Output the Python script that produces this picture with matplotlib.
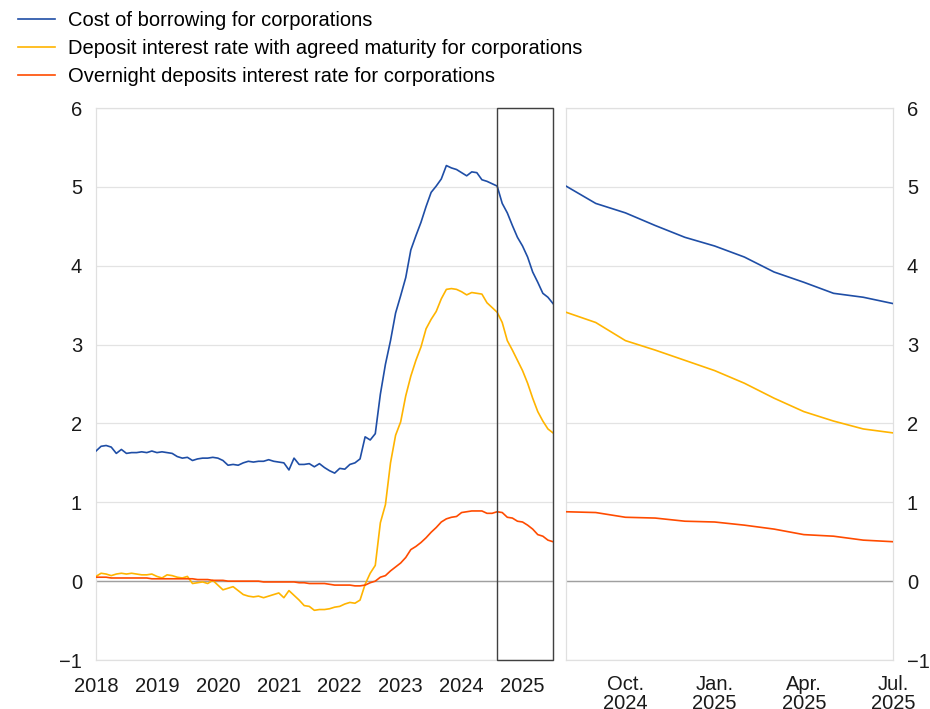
import numpy as np
import matplotlib.pyplot as plt
from matplotlib.lines import Line2D
from matplotlib.patches import Rectangle

plt.rcParams['font.family'] = ['Liberation Sans', 'DejaVu Sans']

# monthly data, Jan 2018 .. Jul 2025
start_year = 2018

cost_borrowing = [
    1.65, 1.71, 1.72, 1.70, 1.62, 1.67, 1.62, 1.63, 1.63, 1.64, 1.63, 1.65,
    1.63, 1.64, 1.63, 1.62, 1.58, 1.56, 1.57, 1.53, 1.55, 1.56, 1.56, 1.57,
    1.56, 1.53, 1.47, 1.48, 1.47, 1.50, 1.52, 1.51, 1.52, 1.52, 1.54, 1.52,
    1.51, 1.50, 1.41, 1.56, 1.48, 1.48, 1.49, 1.45, 1.49, 1.44, 1.40, 1.37,
    1.43, 1.42, 1.48, 1.50, 1.55, 1.83, 1.79, 1.87, 2.37, 2.75, 3.05, 3.40,
    3.62, 3.85, 4.20, 4.38, 4.55, 4.75, 4.93, 5.01, 5.10, 5.27, 5.24, 5.22,
    5.18, 5.14, 5.19, 5.18, 5.09, 5.07, 5.04,
    5.01, 4.79, 4.67, 4.51, 4.36, 4.25, 4.11, 3.92, 3.79, 3.65, 3.60, 3.52,
]

deposit_agreed = [
    0.06, 0.10, 0.09, 0.07, 0.09, 0.10, 0.09, 0.10, 0.09, 0.08, 0.08, 0.09,
    0.06, 0.04, 0.08, 0.07, 0.05, 0.04, 0.06, -0.03, -0.02, -0.01, -0.03, 0.01,
    -0.05, -0.11, -0.09, -0.07, -0.12, -0.17, -0.19, -0.20, -0.19, -0.21, -0.19, -0.17,
    -0.15, -0.21, -0.12, -0.18, -0.24, -0.31, -0.32, -0.37, -0.36, -0.36, -0.35, -0.33,
    -0.32, -0.29, -0.27, -0.28, -0.24, -0.04, 0.10, 0.20, 0.74, 0.97, 1.50, 1.85,
    2.02, 2.35, 2.60, 2.80, 2.97, 3.20, 3.32, 3.42, 3.58, 3.70, 3.71, 3.70,
    3.67, 3.63, 3.66, 3.65, 3.64, 3.53, 3.47,
    3.41, 3.28, 3.05, 2.93, 2.80, 2.67, 2.51, 2.32, 2.15, 2.03, 1.93, 1.88,
]

overnight = [
    0.05, 0.05, 0.05, 0.04, 0.04, 0.04, 0.04, 0.04, 0.04, 0.04, 0.04, 0.03,
    0.03, 0.03, 0.03, 0.03, 0.03, 0.03, 0.03, 0.03, 0.02, 0.02, 0.02, 0.01,
    0.01, 0.01, 0.00, 0.00, 0.00, 0.00, 0.00, 0.00, 0.00, -0.01, -0.01, -0.01,
    -0.01, -0.01, -0.01, -0.01, -0.02, -0.02, -0.03, -0.03, -0.03, -0.03, -0.04, -0.05,
    -0.05, -0.05, -0.05, -0.06, -0.06, -0.05, -0.02, 0.00, 0.05, 0.07, 0.13, 0.18,
    0.23, 0.30, 0.40, 0.44, 0.49, 0.55, 0.62, 0.68, 0.75, 0.79, 0.81, 0.82,
    0.87, 0.88, 0.89, 0.89, 0.89, 0.86, 0.86,
    0.88, 0.87, 0.81, 0.80, 0.76, 0.75, 0.71, 0.66, 0.59, 0.57, 0.52, 0.50,
]

labels = ['Cost of borrowing for corporations',
          'Deposit interest rate with agreed maturity for corporations',
          'Overnight deposits interest rate for corporations']
colors = ['#1f4ea6', '#ffb400', '#ff4b00']

zoom_start = 79  # Aug 2024
right_ticks = [81, 84, 87, 90]
right_labels = ['Oct.\n2024', 'Jan.\n2025', 'Apr.\n2025', 'Jul.\n2025']

months = np.arange(len(cost_borrowing))
series = [cost_borrowing, deposit_agreed, overnight]

fs = 14.5

fig = plt.figure(figsize=(9.3, 7.09), dpi=100)
ax1 = fig.add_axes([96/930, 49/709, 457/930, 552/709])
ax2 = fig.add_axes([566/930, 49/709, 327/930, 552/709])

for ax in (ax1, ax2):
    ax.set_ylim(-1, 6)
    ax.set_yticks(range(-1, 7))
    ax.set_yticklabels([str(v).replace('-', '\u2212') for v in range(-1, 7)])
    ax.grid(axis='y', color='#e3e3e3', linewidth=0.9)
    ax.axhline(0, color='#a0a0a0', linewidth=1.0, zorder=1)
    for s in ax.spines.values():
        s.set_color('#e0e0e0')
        s.set_linewidth(0.9)
    ax.tick_params(length=0, labelsize=fs, colors='#1a1a1a', pad=10)
    ax.set_axisbelow(True)

for y, c in zip(series, colors):
    ax1.plot(months, y, color=c, linewidth=1.2, zorder=3)
    ax2.plot(months[zoom_start:], y[zoom_start:], color=c, linewidth=1.2, zorder=3)

ax1.set_xlim(0, months[-1])
ax1.set_xticks(range(0, len(months), 12))
ax1.set_xticklabels([str(start_year + i) for i in range(len(range(0, len(months), 12)))])
ax1.tick_params(axis='x', pad=12)

ax2.set_xlim(zoom_start, months[-1])
ax2.set_xticks(right_ticks)
ax2.set_xticklabels(right_labels, linespacing=0.95)
ax2.yaxis.tick_right()
ax2.tick_params(axis='x', pad=11)

# box marking the zoomed period
ax1.add_patch(Rectangle((zoom_start, -1), months[-1] - zoom_start, 7, fill=False,
                        edgecolor='#404040', linewidth=1.0, zorder=4, clip_on=False))

handles = [Line2D([], [], color=c, linewidth=1.2) for c in colors]
fig.legend(handles, labels, loc='upper left', bbox_to_anchor=(18/930, 1 - 11/709),
           frameon=False, fontsize=fs, handlelength=1.85, handletextpad=0.65,
           labelspacing=0.45, borderaxespad=0, borderpad=0)

fig.savefig('out.png', dpi=100)
